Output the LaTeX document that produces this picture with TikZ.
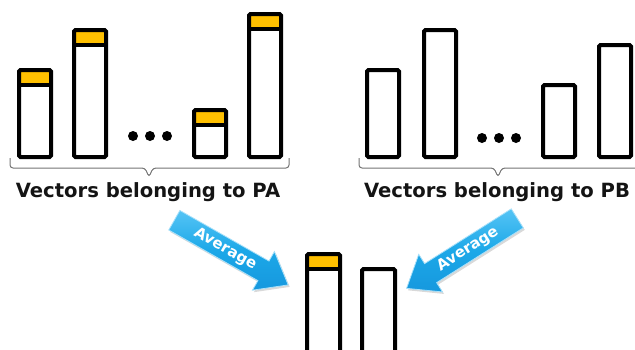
\documentclass[tikz,border=0pt]{standalone}
\usepackage{fontspec}
\setmainfont{DejaVu Sans}
\usetikzlibrary{shapes.arrows,shadows}

\definecolor{gold}{RGB}{255,192,0}
\definecolor{avgblue}{RGB}{28,168,232}
\definecolor{avglight}{RGB}{85,196,245}
\definecolor{avgdark}{RGB}{22,152,222}

\tikzset{
  vecbar/.style={line width=4pt,rounded corners=1.5pt},
  divider/.style={line width=4pt},
  bracket/.style={draw=black!55,line width=1pt,rounded corners=3pt},
  caption/.style={font=\bfseries\fontsize{19.6}{19.6}\selectfont,text=black!92,anchor=base},
  avgarrow/.style={single arrow,single arrow head extend=11pt,single arrow tip angle=76,
    minimum height=131pt,text height=10.5pt,text depth=3.2pt,inner xsep=4pt,inner ysep=4pt,
    top color=avglight,bottom color=avgdark,middle color=avgblue,
    draw=avglight!50!white,line width=0.8pt,text=white,
    font=\bfseries\fontsize{15}{15}\selectfont,
    drop shadow={shadow xshift=1.5pt,shadow yshift=-2pt,opacity=0.3}},
}

\begin{document}
\begin{tikzpicture}[x=1pt,y=-1pt]
\useasboundingbox (0,0) rectangle (635,349);
\clip (0,0) rectangle (635,349);

% vectors of PA (with the gold part on top)
\foreach \x/\t in {19/70, 74/30, 194/110, 249/14}{
  \fill[gold] (\x,\t) rectangle ++(32,15);
  \draw[vecbar] (\x,\t) rectangle (\x+32,157);
  \draw[divider] (\x,\t+15) -- (\x+32,\t+15);
}
\foreach \x in {133,150,167}
  \fill (\x,136) circle (5);

% vectors of PB
\foreach \x/\t in {367/70, 424/30, 543/85, 599/45}
  \draw[vecbar] (\x,\t) rectangle (\x+32,157);
\foreach \x in {482,499,516}
  \fill (\x,138) circle (5);

% braces
\draw[bracket] (10,158) |- (145,168) -- (149,177) -- (153,168) -| (289,158);
\draw[bracket] (359,158) |- (494,168) -- (498,177) -- (502,168) -| (640,158);

\node[caption] (capA) at (148,197) {Vectors belonging to PA};
\node[caption] (capB) at (497,197) {Vectors belonging to PB};

% averaging arrows
\node[avgarrow,rotate=-29.6] (avgA) at (225,249) {Average};
\node[avgarrow,shape border rotate=180,rotate=32.3] (avgB) at (468,249.5) {Average};

% averaged vectors
\fill[gold] (307,254) rectangle ++(33,15);
\draw[vecbar] (307,254) rectangle (340,360);
\draw[divider] (307,269) -- (340,269);
\draw[vecbar] (362,269) rectangle (395,360);
\end{tikzpicture}
\end{document}
